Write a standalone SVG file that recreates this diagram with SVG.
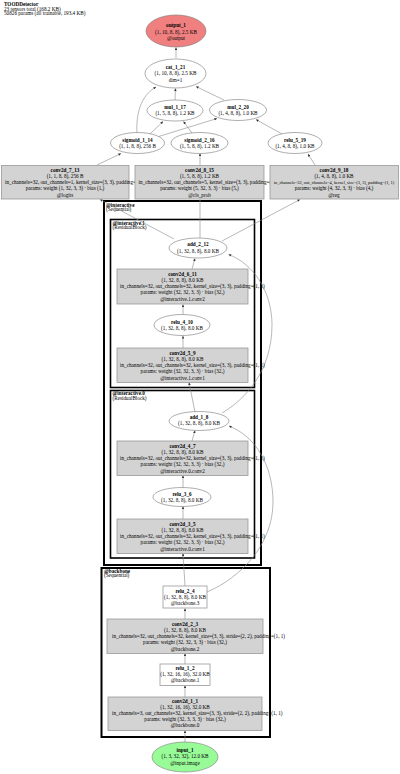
<svg xmlns="http://www.w3.org/2000/svg" width="400" height="774" viewBox="0 0 400 774">
<style>
text{font-family:"Liberation Serif","Times New Roman",serif;font-size:5.2px;fill:#000}
.c{text-anchor:middle}
.b{font-weight:bold}
.gb{fill:#d3d3d3;stroke:#999;stroke-width:0.8}
.wb{fill:#fff;stroke:#999;stroke-width:0.8}
.el{fill:#fff;stroke:#777;stroke-width:0.6}
.cl{fill:none;stroke:#000;stroke-width:2}
.cl2{fill:none;stroke:#000;stroke-width:1.6}
.e{fill:none;stroke:#888;stroke-width:0.6;marker-end:url(#ah)}
</style>
<defs>
<marker id="ah" viewBox="0 0 10 10" refX="10" refY="5" markerWidth="3.4" markerHeight="2.6" markerUnits="userSpaceOnUse" orient="auto">
<path d="M0,0 L10,5 L0,10 z" fill="#333"/>
</marker>
</defs>
<rect width="400" height="774" fill="#fff"/>
<g id="title">
<text x="4" y="6" class="b">TOODDetector</text>
<text x="4" y="10.8">23 tensors total (168.2 KB)</text>
<text x="4" y="15.4">50826 params (all trainable, 193.4 KB)</text>
</g>
<g id="cluster_interactive">
<rect class="cl" x="104" y="201" width="157" height="364"/>
<text x="106" y="206.8" class="b">@interactive</text>
<text x="106" y="211.3">(Sequential)</text>
</g>
<g id="cluster_interactive_1">
<rect class="cl2" x="110.5" y="219.5" width="144" height="168"/>
<text x="112.5" y="224.7" class="b">@interactive.1</text>
<text x="112.5" y="229.2">(ResidualBlock)</text>
</g>
<g id="cluster_interactive_0">
<rect class="cl2" x="110.5" y="390.5" width="144" height="167.5"/>
<text x="112.5" y="395.2" class="b">@interactive.0</text>
<text x="112.5" y="399.7">(ResidualBlock)</text>
</g>
<g id="cluster_backbone">
<rect class="cl" x="101.5" y="568" width="168.5" height="169"/>
<text x="104" y="572.8" class="b">@backbone</text>
<text x="104" y="577.3">(Sequential)</text>
</g>
<g id="connectors">
<path class="e" d="M176,58 L176,47.5"/>
<path class="e" d="M175,100 L175.5,88.5"/>
<path class="e" d="M224,100 L196,86.5"/>
<path class="e" d="M137,133 C136,115 140,96 156,87"/>
<path class="e" d="M150,134 L163,121.5"/>
<path class="e" d="M157,137 L217,118.5"/>
<path class="e" d="M192,133 L183.5,121.5"/>
<path class="e" d="M282,134 L256,119.5"/>
<path class="e" d="M97,165 L121,153.5"/>
<path class="e" d="M200,165 L200,153.5"/>
<path class="e" d="M315,165 L308,154"/>
<path class="e" d="M174,239 L100,199.5"/>
<path class="e" d="M200,238 L200,199.5"/>
<path class="e" d="M222,241 L300,199.5"/>
<path class="e" d="M192,269 L195,258.5"/>
<path class="e" d="M183,314.5 L183,304.5"/>
<path class="e" d="M183,348 L183,336"/>
<path class="e" d="M195,412 L189,382.5"/>
<path class="e" d="M222,413 C246,399 272,370 272,325 C272,290 252,263 228.5,254.5"/>
<path class="e" d="M207,592 C240,578 273,545 273,502 C273,465 255,436 229,426"/>
<path class="e" d="M192,441 L195,430.5"/>
<path class="e" d="M183,487.5 L183,475.5"/>
<path class="e" d="M183,519 L183,506.5"/>
<path class="e" d="M185,586 L183,553.5"/>
<path class="e" d="M185,619 L185,608.5"/>
<path class="e" d="M185,664 L185,653.5"/>
<path class="e" d="M185,697 L185,685.5"/>
<path class="e" d="M185,742 L185,730.5"/>
</g>
<g id="output_1">
<ellipse cx="176" cy="31" rx="30" ry="16" fill="#f08080" stroke="#777" stroke-width="0.6"/>
<text x="176" y="27.2" class="c b">output_1</text>
<text x="176" y="33.7" class="c">(1, 10, 8, 8), 2.5 KB</text>
<text x="176" y="40.2" class="c">@output</text>
</g>
<g id="cat_1_21">
<ellipse class="el" cx="175.5" cy="73.5" rx="30.5" ry="14.5"/>
<text x="175.5" y="68.7" class="c b">cat_1_21</text>
<text x="175.5" y="75.2" class="c">(1, 10, 8, 8), 2.5 KB</text>
<text x="175.5" y="81.7" class="c">dim=1</text>
</g>
<g id="mul_1_17">
<ellipse class="el" cx="175" cy="110.5" rx="28" ry="10.5"/>
<text x="175" y="109" class="c b">mul_1_17</text>
<text x="175" y="115.4" class="c">(1, 5, 8, 8), 1.2 KB</text>
</g>
<g id="mul_2_20">
<ellipse class="el" cx="238" cy="110" rx="28.5" ry="10.5"/>
<text x="238" y="108.6" class="c b">mul_2_20</text>
<text x="238" y="115" class="c">(1, 4, 8, 8), 1.0 KB</text>
</g>
<g id="sigmoid_1_14">
<ellipse class="el" cx="137.5" cy="143" rx="27" ry="10.5"/>
<text x="137.5" y="141.5" class="c b">sigmoid_1_14</text>
<text x="137.5" y="147.9" class="c">(1, 1, 8, 8), 256 B</text>
</g>
<g id="sigmoid_2_16">
<ellipse class="el" cx="199.5" cy="143" rx="28.5" ry="10.5"/>
<text x="199.5" y="141.5" class="c b">sigmoid_2_16</text>
<text x="199.5" y="147.9" class="c">(1, 5, 8, 8), 1.2 KB</text>
</g>
<g id="relu_5_19">
<ellipse class="el" cx="295" cy="143" rx="27" ry="10.5"/>
<text x="295" y="141.5" class="c b">relu_5_19</text>
<text x="295" y="147.9" class="c">(1, 4, 8, 8), 1.0 KB</text>
</g>
<g id="conv2d_7_13">
<rect class="gb" x="1.5" y="165.5" width="127.5" height="33.5"/>
<text x="65" y="171.7" class="c b">conv2d_7_13</text>
<text x="65" y="177.9" class="c">(1, 1, 8, 8), 256 B</text>
<text x="5" y="184.1">in_channels=32, out_channels=1, kernel_size=(3, 3), padding=(1, 1)</text>
<text x="65" y="190.3" class="c">params: weight (1, 32, 3, 3) · bias (1,)</text>
<text x="65" y="196.5" class="c">@logits</text>
</g>
<g id="conv2d_8_15">
<rect class="gb" x="135" y="165.5" width="129" height="33.5"/>
<text x="199.5" y="171.7" class="c b">conv2d_8_15</text>
<text x="199.5" y="177.9" class="c">(1, 5, 8, 8), 1.2 KB</text>
<text x="138.5" y="184.1">in_channels=32, out_channels=5, kernel_size=(3, 3), padding=(1, 1)</text>
<text x="199.5" y="190.3" class="c">params: weight (5, 32, 3, 3) · bias (5,)</text>
<text x="199.5" y="196.5" class="c">@cls_prob</text>
</g>
<g id="conv2d_9_18">
<rect class="gb" x="270" y="165.5" width="128.5" height="33.5"/>
<text x="334" y="171.7" class="c b">conv2d_9_18</text>
<text x="334" y="177.9" class="c">(1, 4, 8, 8), 1.0 KB</text>
<text x="334" y="184.1" class="c" style="font-size:4.4px">in_channels=32, out_channels=4, kernel_size=(3, 3), padding=(1, 1)</text>
<text x="334" y="190.3" class="c">params: weight (4, 32, 3, 3) · bias (4,)</text>
<text x="334" y="196.5" class="c">@reg</text>
</g>
<g id="add_2_12">
<ellipse class="el" cx="198" cy="248" rx="29" ry="10"/>
<text x="198" y="246.2" class="c b">add_2_12</text>
<text x="198" y="253.2" class="c">(1, 32, 8, 8), 8.0 KB</text>
</g>
<g id="conv2d_6_11">
<rect class="gb" x="117" y="269" width="131" height="35"/>
<text x="182.5" y="275.7" class="c b">conv2d_6_11</text>
<text x="182.5" y="281.9" class="c">(1, 32, 8, 8), 8.0 KB</text>
<text x="120" y="288.1">in_channels=32, out_channels=32, kernel_size=(3, 3), padding=(1, 1)</text>
<text x="182.5" y="294.3" class="c">params: weight (32, 32, 3, 3) · bias (32,)</text>
<text x="182.5" y="300.5" class="c">@interactive.1.conv2</text>
</g>
<g id="relu_4_10">
<ellipse class="el" cx="182" cy="325" rx="28" ry="10.5"/>
<text x="182" y="323.5" class="c b">relu_4_10</text>
<text x="182" y="329.9" class="c">(1, 32, 8, 8), 8.0 KB</text>
</g>
<g id="conv2d_5_9">
<rect class="gb" x="117" y="348" width="131" height="34.5"/>
<text x="182.5" y="354.7" class="c b">conv2d_5_9</text>
<text x="182.5" y="360.9" class="c">(1, 32, 8, 8), 8.0 KB</text>
<text x="120" y="367.1">in_channels=32, out_channels=32, kernel_size=(3, 3), padding=(1, 1)</text>
<text x="182.5" y="373.3" class="c">params: weight (32, 32, 3, 3) · bias (32,)</text>
<text x="182.5" y="379.5" class="c">@interactive.1.conv1</text>
</g>
<g id="add_1_8">
<ellipse class="el" cx="199" cy="421" rx="30" ry="9.5"/>
<text x="199" y="418.6" class="c b">add_1_8</text>
<text x="199" y="425" class="c">(1, 32, 8, 8), 8.0 KB</text>
</g>
<g id="conv2d_4_7">
<rect class="gb" x="117" y="441" width="131" height="34.5"/>
<text x="182.5" y="447.7" class="c b">conv2d_4_7</text>
<text x="182.5" y="453.9" class="c">(1, 32, 8, 8), 8.0 KB</text>
<text x="120" y="460.1">in_channels=32, out_channels=32, kernel_size=(3, 3), padding=(1, 1)</text>
<text x="182.5" y="466.3" class="c">params: weight (32, 32, 3, 3) · bias (32,)</text>
<text x="182.5" y="472.5" class="c">@interactive.0.conv2</text>
</g>
<g id="relu_3_6">
<ellipse class="el" cx="182" cy="497" rx="29" ry="9.5"/>
<text x="182" y="495.5" class="c b">relu_3_6</text>
<text x="182" y="501.9" class="c">(1, 32, 8, 8), 8.0 KB</text>
</g>
<g id="conv2d_3_5">
<rect class="gb" x="117" y="519" width="131" height="34.5"/>
<text x="182.5" y="525.7" class="c b">conv2d_3_5</text>
<text x="182.5" y="531.9" class="c">(1, 32, 8, 8), 8.0 KB</text>
<text x="120" y="538.1">in_channels=32, out_channels=32, kernel_size=(3, 3), padding=(1, 1)</text>
<text x="182.5" y="544.3" class="c">params: weight (32, 32, 3, 3) · bias (32,)</text>
<text x="182.5" y="550.5" class="c">@interactive.0.conv1</text>
</g>
<g id="relu_2_4">
<rect class="wb" x="163" y="586" width="44" height="22"/>
<text x="185" y="592.7" class="c b">relu_2_4</text>
<text x="185" y="598.9" class="c">(1, 32, 8, 8), 8.0 KB</text>
<text x="185" y="605.1" class="c">@backbone.3</text>
</g>
<g id="conv2d_2_3">
<rect class="gb" x="107" y="619" width="156" height="34.5"/>
<text x="185" y="625.7" class="c b">conv2d_2_3</text>
<text x="185" y="631.9" class="c">(1, 32, 8, 8), 8.0 KB</text>
<text x="112" y="638.1">in_channels=32, out_channels=32, kernel_size=(3, 3), stride=(2, 2), padding=(1, 1)</text>
<text x="185" y="644.3" class="c">params: weight (32, 32, 3, 3) · bias (32,)</text>
<text x="185" y="650.5" class="c">@backbone.2</text>
</g>
<g id="relu_1_2">
<rect class="wb" x="160" y="664" width="50" height="21.5"/>
<text x="185" y="669.7" class="c b">relu_1_2</text>
<text x="185" y="675.9" class="c">(1, 32, 16, 16), 32.0 KB</text>
<text x="185" y="682.1" class="c">@backbone.1</text>
</g>
<g id="conv2d_1_1">
<rect class="gb" x="108" y="697" width="154" height="33.5"/>
<text x="185" y="702.5" class="c b">conv2d_1_1</text>
<text x="185" y="708.7" class="c">(1, 32, 16, 16), 32.0 KB</text>
<text x="112" y="714.9">in_channels=3, out_channels=32, kernel_size=(3, 3), stride=(2, 2), padding=(1, 1)</text>
<text x="185" y="721.1" class="c">params: weight (32, 3, 3, 3) · bias (32,)</text>
<text x="185" y="727.3" class="c">@backbone.0</text>
</g>
<g id="input_1">
<ellipse cx="185" cy="757" rx="33" ry="15" fill="#98fb98" stroke="#777" stroke-width="0.6"/>
<text x="185" y="751.5" class="c b">input_1</text>
<text x="185" y="758" class="c">(1, 3, 32, 32), 12.0 KB</text>
<text x="185" y="764.5" class="c">@input.image</text>
</g>
</svg>
